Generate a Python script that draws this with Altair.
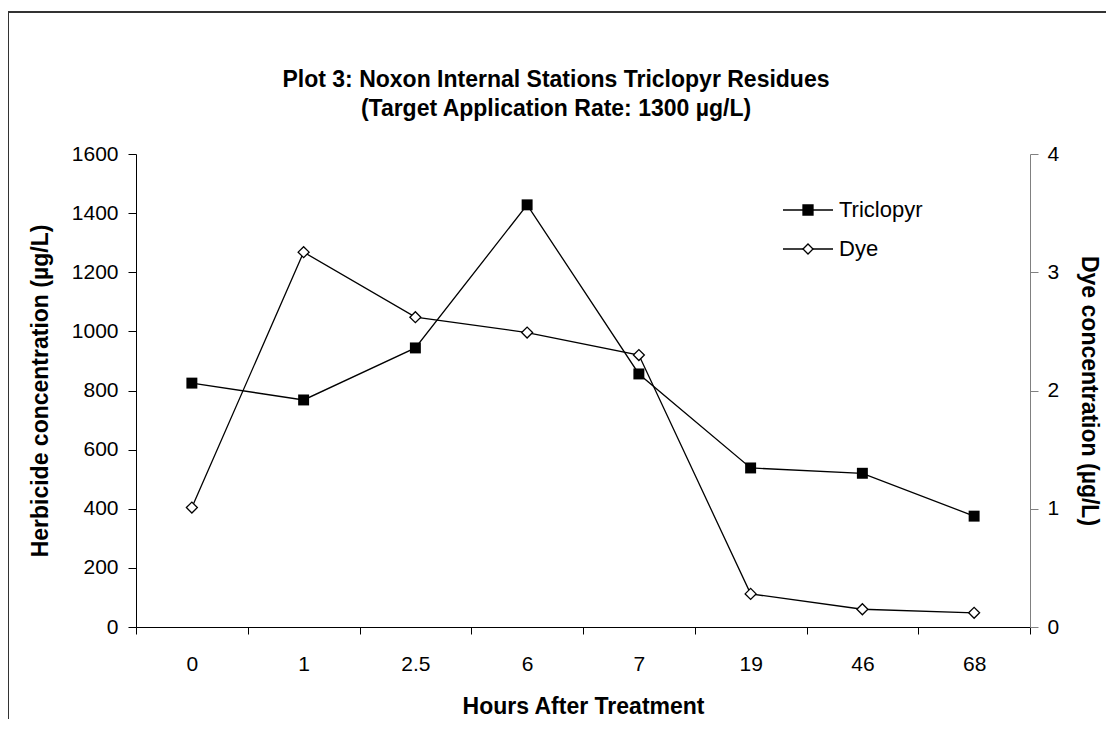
import altair as alt
import pandas as pd

hours = ["0", "1", "2.5", "6", "7", "19", "46", "68"]
triclopyr = [825, 768, 944, 1428, 856, 538, 520, 375]
dye = [1.01, 3.17, 2.62, 2.49, 2.30, 0.28, 0.15, 0.12]
series_names = ["Triclopyr", "Dye"]

FONT = "Liberation Sans"
W, H = 894, 473
LBL = 21
TTL = 23

df_t = pd.DataFrame({"hours": hours, "value": triclopyr})
df_d = pd.DataFrame({"hours": hours, "value": dye})

x_enc = alt.X(
    "hours:N",
    sort=hours,
    scale=alt.Scale(type="band", paddingInner=0, paddingOuter=0),
    axis=alt.Axis(
        title="Hours After Treatment",
        labelAngle=0,
        tickBand="extent",
        domainColor="black",
        tickColor="black",
        tickSize=7,
        labelFontSize=LBL,
        labelPadding=19,
        titleFontSize=TTL,
        titleFontWeight="bold",
        titlePadding=21,
        labelColor="black",
        titleColor="black",
    ),
)

y_left = alt.Y(
    "value:Q",
    scale=alt.Scale(domain=[0, 1600]),
    axis=alt.Axis(
        title="Herbicide concentration (µg/L)",
        values=[0, 200, 400, 600, 800, 1000, 1200, 1400, 1600],
        format="d",
        grid=False,
        domainColor="black",
        tickColor="black",
        tickSize=8,
        labelFontSize=LBL,
        labelPadding=10,
        titleFontSize=TTL,
        titleFontWeight="bold",
        titlePadding=19,
        labelColor="black",
        titleColor="black",
    ),
)

y_right = alt.Y(
    "value:Q",
    scale=alt.Scale(domain=[0, 4]),
    axis=alt.Axis(
        title="Dye concentration (µg/L)",
        orient="right",
        values=[0, 1, 2, 3, 4],
        grid=False,
        domainColor="#808080",
        tickColor="#808080",
        tickSize=8,
        labelFontSize=LBL,
        labelPadding=9,
        titleFontSize=TTL,
        titleFontWeight="bold",
        titlePadding=18,
        labelColor="black",
        titleColor="black",
    ),
)

base_t = alt.Chart(df_t).encode(x=x_enc, y=y_left)
tri = alt.layer(
    base_t.mark_line(color="black", strokeWidth=1.3),
    base_t.mark_point(shape="square", filled=True, color="black", size=120, opacity=1),
)

base_d = alt.Chart(df_d).encode(x=x_enc, y=y_right)
dye_l = alt.layer(
    base_d.mark_line(color="black", strokeWidth=1.3),
    base_d.mark_point(shape="diamond", filled=True, fill="white", stroke="black",
                      strokeWidth=1.3, size=120, opacity=1),
)

# legend
leg_df = pd.DataFrame({"name": series_names})
one = alt.Chart(pd.DataFrame({"a": [0]}))

def legend_row(idx, shape, fill, y):
    d = alt.Chart(leg_df.iloc[[idx]])
    rule = d.mark_rule(color="black", strokeWidth=1.3).encode(
        x=alt.value(647), x2=alt.value(697), y=alt.value(y))
    pt = d.mark_point(shape=shape, filled=True, fill=fill, stroke="black",
                      strokeWidth=1.3, size=100, opacity=1).encode(
        x=alt.value(672), y=alt.value(y))
    tx = d.mark_text(align="left", baseline="middle", fontSize=22, font=FONT,
                     color="black").encode(
        x=alt.value(703), y=alt.value(y), text="name:N")
    return rule + pt + tx

leg1 = legend_row(0, "square", "black", 56)
leg2 = legend_row(1, "diamond", "white", 95)

# outer frame (top and left edges)
frame_top = one.mark_rule(color="#333333", strokeWidth=2).encode(
    x=alt.value(-128), x2=alt.value(1000), y=alt.value(-142))
frame_left = one.mark_rule(color="#333333", strokeWidth=2).encode(
    x=alt.value(-128), y=alt.value(-142), y2=alt.value(700))

chart = alt.layer(tri, dye_l, leg1, leg2, frame_top, frame_left).resolve_scale(
    y="independent"
).properties(
    width=W,
    height=H,
    padding={"left": 128, "top": 146, "right": 76, "bottom": 92},
    autosize=alt.AutoSizeParams(type="none"),
    title=alt.TitleParams(
        text=["Plot 3: Noxon Internal Stations Triclopyr Residues",
              "(Target Application Rate: 1300 µg/L)"],
        fontSize=TTL,
        fontWeight="bold",
        font=FONT,
        color="black",
        anchor="middle",
        dx=-27,
        offset=-110,
        lineHeight=29,
    ),
).configure(
    font=FONT,
    background="white",
).configure_view(
    stroke=None
).configure_axis(
    labelFont=FONT, titleFont=FONT
)

chart.save("out.html", embed_options={"renderer": "svg", "actions": False})
